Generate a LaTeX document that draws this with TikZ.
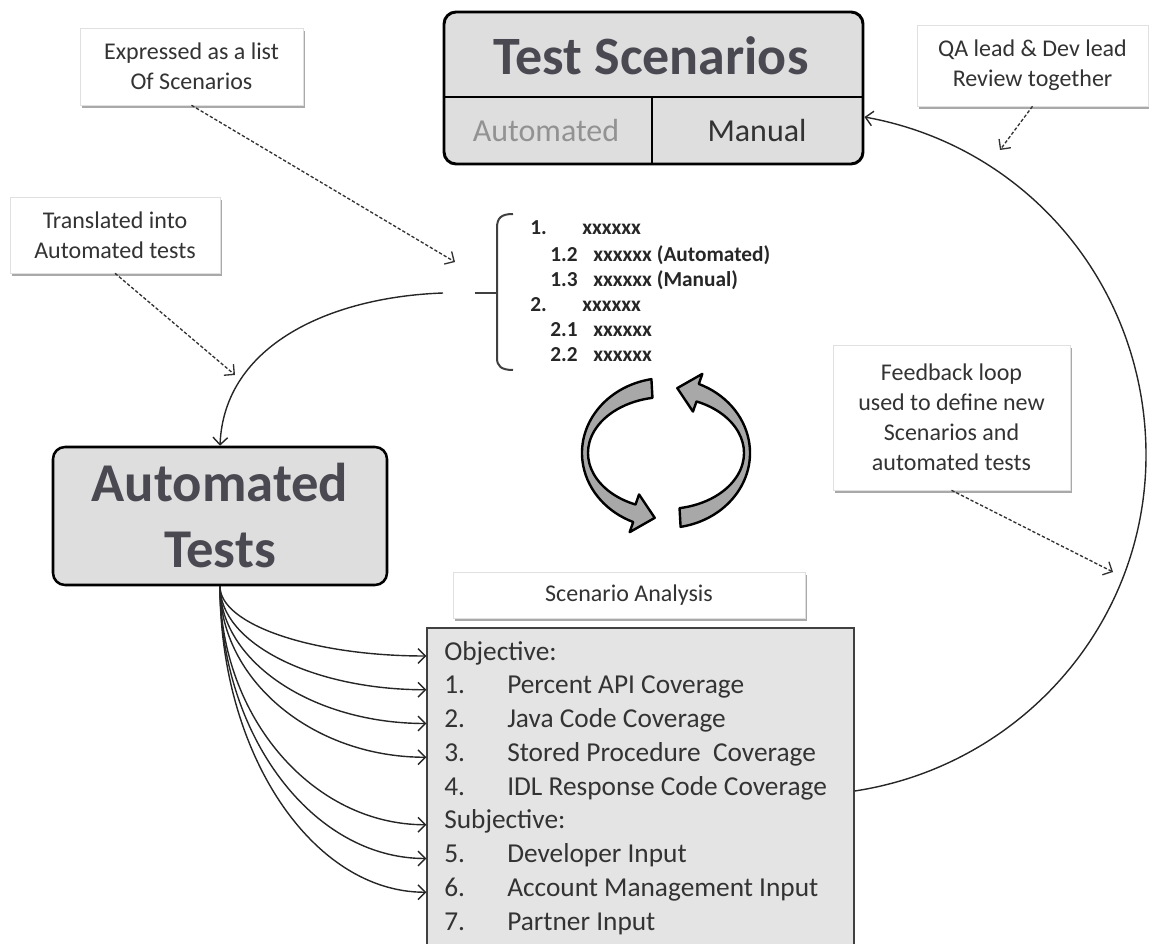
\documentclass[tikz,border=0pt]{standalone}
\usepackage{fontspec}
\setmainfont{Carlito}
\usetikzlibrary{arrows.meta,shadows,calc}

\definecolor{panel}{HTML}{DEDEDE}
\definecolor{sheet}{HTML}{E4E4E4}
\definecolor{titleink}{HTML}{4A4952}
\definecolor{ink}{HTML}{333333}
\definecolor{faded}{HTML}{929292}
\definecolor{ribbon}{HTML}{A8A8A8}

\begin{document}
\begin{tikzpicture}[x=0.75pt,y=-0.75pt,
  arr/.style={-{Straight Barb[length=5.5pt,width=11pt]}, line width=1.05pt, draw=black!85},
  dasharr/.style={-{Straight Barb[length=5.5pt,width=11pt]}, line width=1pt, draw=black!80, dash pattern=on 2.5pt off 1.5pt},
  callout/.style={draw=black!12, fill=white, inner sep=0pt, align=center, text=ink,
    font=\fontsize{18}{22.5}\selectfont,
    drop shadow={shadow xshift=1.5pt, shadow yshift=-2.5pt, opacity=0.45, fill=black!75}},
  bigbox/.style={draw=black, fill=panel, rounded corners=9pt, inner sep=0pt},
  item/.style={anchor=base west, inner sep=0pt, text=ink, font=\fontsize{20.5}{24}\selectfont,
    text height=10pt, text depth=4pt},
  lst/.style={anchor=base west, inner sep=0pt, text=black!85, font=\fontsize{16}{18}\selectfont\bfseries},
  cyc/.style={fill=ribbon, draw=black, line width=1.8pt, line join=round}]
\useasboundingbox (0,0) rectangle (1149,944);
\clip (0,0) rectangle (1149,944);

% ---- Test Scenarios panel ----
\node[bigbox, line width=2.2pt, minimum width=314.25pt, minimum height=114pt] (ts) at (653.5,88) {};
\draw[line width=2pt] (ts.west |- 0,97) -- (ts.east |- 0,97);
\draw[line width=2pt] (652,97) -- (652,164);
\node[anchor=base, inner sep=0pt, text=titleink, font=\fontsize{40.5}{48}\selectfont\bfseries] (tst) at (651,75) {Test Scenarios};
\node[anchor=base, inner sep=0pt, text=faded, font=\fontsize{24}{28}\selectfont] (tsa) at (546,142) {Automated};
\node[anchor=base, inner sep=0pt, text=black!80, font=\fontsize{24}{28}\selectfont] (tsm) at (757,142) {Manual};

% ---- Automated Tests panel ----
\node[bigbox, line width=1.9pt, minimum width=250.5pt, minimum height=103.5pt, align=center,
  text=titleink, font=\fontsize{41}{49.5}\selectfont\bfseries] (at) at (220,516) {Automated\\Tests};

% ---- callouts ----
\node[callout, minimum width=167.25pt, minimum height=57.75pt] (c1) at (191.5,66.5) {Expressed as a list\\Of Scenarios};
\node[callout, minimum width=157.5pt, minimum height=57pt] (c2) at (115,235) {Translated into\\Automated tests};
\node[callout, minimum width=173.25pt, minimum height=60.75pt] (c3) at (1032.5,65.5) {QA lead \& Dev lead\\Review together};
\node[callout, minimum width=177.75pt, minimum height=108.75pt] (c4) at (951.5,417.5) {Feedback loop\\used to define new\\Scenarios and\\automated tests};
\node[callout, minimum width=264pt, minimum height=34.5pt] (san) at (629,595) {Scenario Analysis};

% ---- scenario list with bracket ----
\draw[draw=black!75, line width=1.5pt] (513,214) .. controls (501,214) and (497,218) .. (497,228)
  -- (497,358) .. controls (497,366) and (501,370) .. (513,370);
\draw[draw=black!75, line width=1.5pt] (475,293) -- (497,293);
\node[lst] (l1) at (530,235) {1.};
\node[lst] (l1x) at (582,235) {xxxxxx};
\node[lst] (l12) at (550,262) {1.2};
\node[lst] (l12x) at (593,262) {xxxxxx (Automated)};
\node[lst] (l13) at (550,287) {1.3};
\node[lst] (l13x) at (593,287) {xxxxxx (Manual)};
\node[lst] (l2) at (530,312) {2.};
\node[lst] (l2x) at (582,312) {xxxxxx};
\node[lst] (l21) at (550,337) {2.1};
\node[lst] (l21x) at (593,337) {xxxxxx};
\node[lst] (l22) at (550,362) {2.2};
\node[lst] (l22x) at (593,362) {xxxxxx};
\coordinate (lstout) at (443,293);
\coordinate (lstin) at (455,262);

% ---- cycle arrows ----
\begin{scope}[shift={(666,453)}, yscale=-1]
  \filldraw[cyc] (100:84 and 75) arc[start angle=100, end angle=247, x radius=84, y radius=75]
    -- (247:93 and 86) -- (262:81 and 65.5) -- (247:69 and 45) -- (247:78 and 56)
    arc[start angle=247, end angle=100, x radius=78, y radius=56] -- cycle;
  \filldraw[cyc] (280:84 and 75) arc[start angle=280, end angle=427, x radius=84, y radius=75]
    -- (427:93 and 86) -- (442:81 and 65.5) -- (427:69 and 45) -- (427:78 and 56)
    arc[start angle=427, end angle=280, x radius=78, y radius=56] -- cycle;
\end{scope}

% ---- scenario analysis sheet ----
\node[draw=black!75, fill=sheet, line width=1pt, inner sep=0pt, minimum width=320.25pt, minimum height=279pt] (sa) at (640.5,814) {};
\node[item] (ob) at (444,660) {Objective:};
\node[item] (n1) at (444,693.75) {1.};
\node[item] (t1) at (507,693.75) {Percent API Coverage};
\node[item] (n2) at (444,727.5) {2.};
\node[item] (t2) at (507,727.5) {Java Code Coverage};
\node[item] (n3) at (444,761.25) {3.};
\node[item] (t3) at (507,761.25) {Stored Procedure\ \ Coverage};
\node[item] (n4) at (444,795) {4.};
\node[item] (t4) at (507,795) {IDL Response Code Coverage};
\node[item] (sb) at (444,828.75) {Subjective:};
\node[item] (n5) at (444,862.5) {5.};
\node[item] (t5) at (507,862.5) {Developer Input};
\node[item] (n6) at (444,896.25) {6.};
\node[item] (t6) at (507,896.25) {Account Management Input};
\node[item] (n7) at (444,930) {7.};
\node[item] (t7) at (507,930) {Partner Input};

% ---- connectors ----
\draw[arr] (lstout) .. controls (330,297) and (224,345) .. (at.north);
\foreach \n in {ob,t1,t2,t3,sb,t5,t6}
  \draw[arr] (at.south) .. controls ($(at.south)!0.55!(at.south |- \n)$)
    and ($(sa.west |- \n)!0.55!(at.south |- \n)$) .. (sa.west |- \n);
\draw[arr] (sa.east |- t4) .. controls (1020,766) and (1146,625) .. (1146,455)
  .. controls (1146,289) and (1030,147) .. ($(ts.east)+(0,29)$);

\coordinate (p2) at (235,375);
\coordinate (p3) at (1000,150);
\coordinate (p4) at (1113,572);
\draw[dasharr] (c1.south) -- (lstin);
\draw[dasharr] (c2.south) -- (p2);
\draw[dasharr] (c3.south) -- (p3);
\draw[dasharr] (c4.south) -- (p4);
\end{tikzpicture}
\end{document}
